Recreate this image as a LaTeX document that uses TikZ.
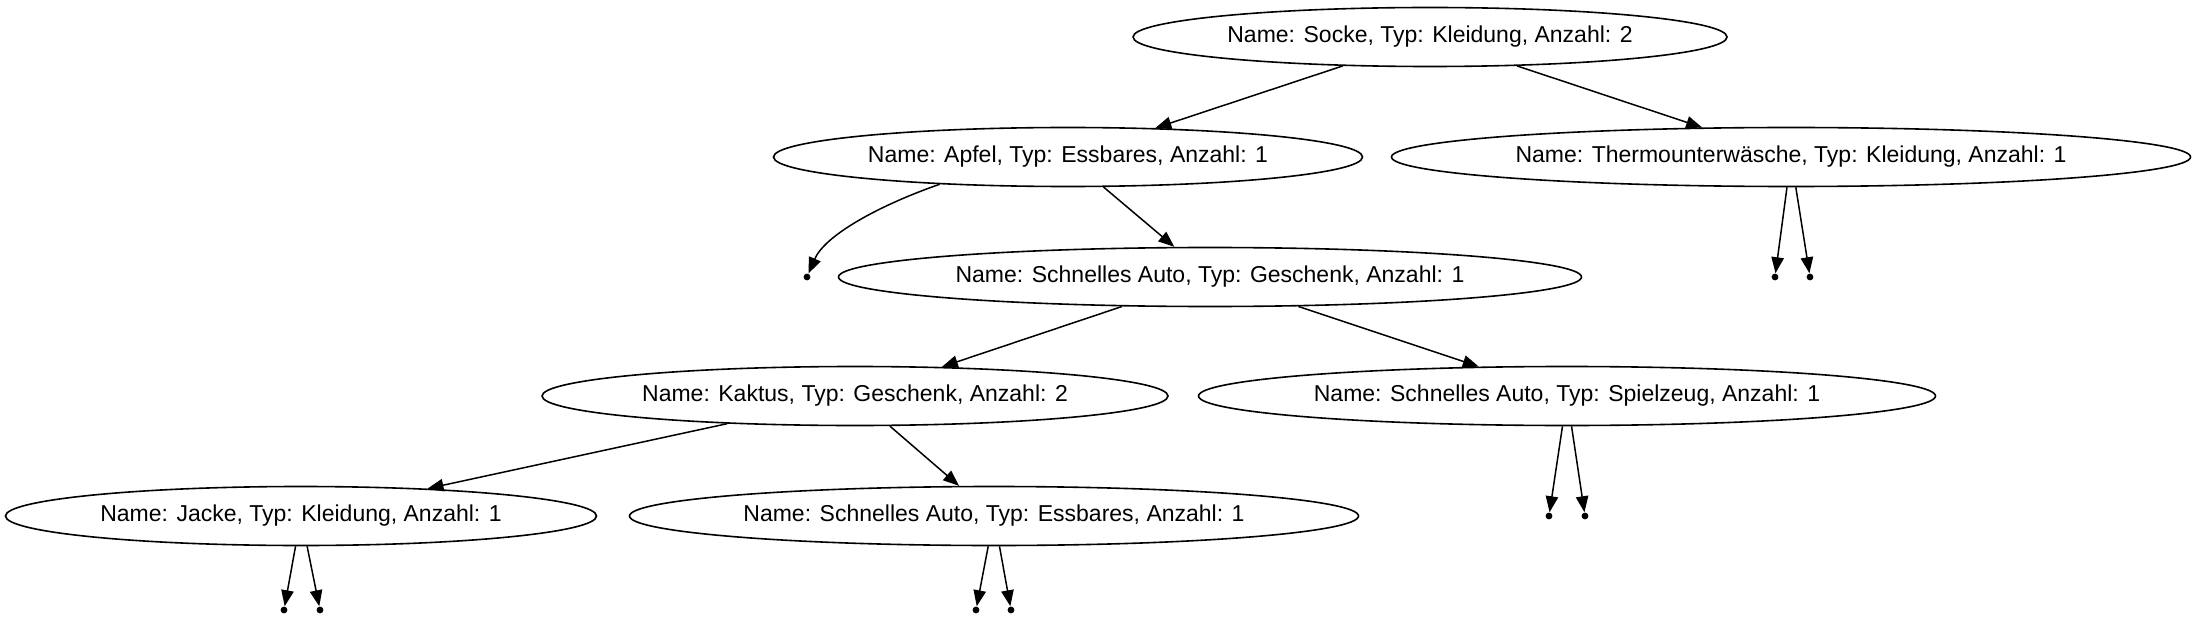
\documentclass[tikz,border=0pt]{standalone}
\usepackage{fontspec}
\setmainfont{Liberation Sans}
\usetikzlibrary{shapes.geometric,arrows.meta}
\begin{document}
\begin{tikzpicture}[x=0.5pt,y=-0.5pt,
  tn/.style={ellipse,draw,line width=0.8pt,inner sep=0pt,minimum height=29.5pt,
             font=\fontsize{11.5}{13}\selectfont},
  nil/.style={circle,fill,inner sep=0pt,minimum size=3.4pt},
  arr/.style={-{Triangle[length=8pt,width=6.2pt]},line width=0.75pt}]
\useasboundingbox (0,0) rectangle (2198,620);
% tree nodes
\node[tn,minimum width=297pt]   (socke)  at (1430,37)  {Name: Socke, Typ: Kleidung, Anzahl: 2};
\node[tn,minimum width=294.5pt] (apfel)  at (1068,157) {Name: Apfel, Typ: Essbares, Anzahl: 1};
\node[tn,minimum width=399.5pt] (thermo) at (1791,157) {Name: Thermounterwäsche, Typ: Kleidung, Anzahl: 1};
\node[tn,minimum width=371.5pt] (sag)    at (1210,277) {Name: Schnelles Auto, Typ: Geschenk, Anzahl: 1};
\node[tn,minimum width=313pt]   (kaktus) at (855,396)  {Name: Kaktus, Typ: Geschenk, Anzahl: 2};
\node[tn,minimum width=368.5pt] (sas)    at (1567,396) {Name: Schnelles Auto, Typ: Spielzeug, Anzahl: 1};
\node[tn,minimum width=295.5pt] (jacke)  at (301,516)  {Name: Jacke, Typ: Kleidung, Anzahl: 1};
\node[tn,minimum width=364.5pt] (sae)    at (994,516)  {Name: Schnelles Auto, Typ: Essbares, Anzahl: 1};
% null leaves
\node[nil] (n0)  at (807,277) {};
\node[nil] (t1)  at (1775,277) {};
\node[nil] (t2)  at (1810,277) {};
\node[nil] (s1)  at (1549,516) {};
\node[nil] (s2)  at (1585,516) {};
\node[nil] (j1)  at (284,610) {};
\node[nil] (j2)  at (320,610) {};
\node[nil] (e1)  at (976,610) {};
\node[nil] (e2)  at (1011,610) {};
% edges
\draw[arr] (socke) -- (apfel);
\draw[arr] (socke) -- (thermo);
\draw[arr] (apfel.192) .. controls (880,205) and (825,235) .. (n0);
\draw[arr] (apfel) -- (sag);
\draw[arr] (thermo) -- (t1);
\draw[arr] (thermo) -- (t2);
\draw[arr] (sag) -- (kaktus);
\draw[arr] (sag) -- (sas);
\draw[arr] (sas) -- (s1);
\draw[arr] (sas) -- (s2);
\draw[arr] (kaktus) -- (jacke);
\draw[arr] (kaktus) -- (sae);
\draw[arr] (jacke) -- (j1);
\draw[arr] (jacke) -- (j2);
\draw[arr] (sae) -- (e1);
\draw[arr] (sae) -- (e2);
\end{tikzpicture}
\end{document}
